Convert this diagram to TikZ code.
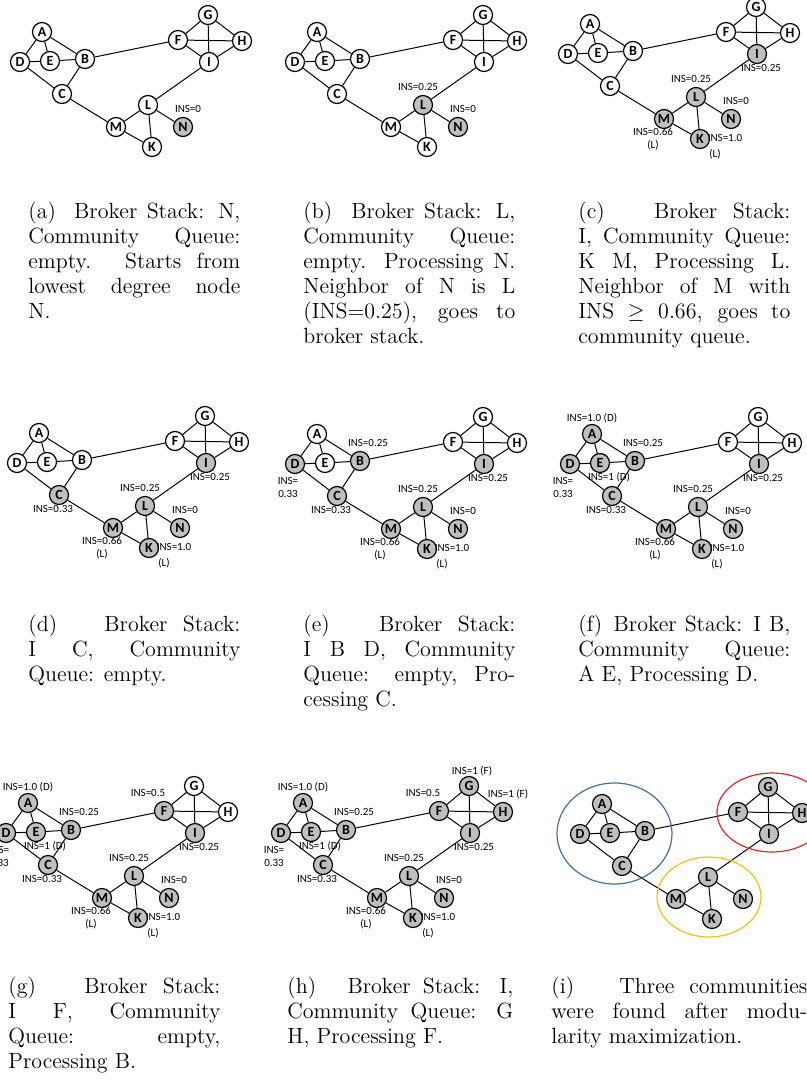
\documentclass[tikz,border=0pt]{standalone}
\usepackage{fontspec}
\newfontfamily\grfont{Carlito}
\usetikzlibrary{positioning}
\definecolor{nodegray}{HTML}{BFBFBF}
\definecolor{commblue}{HTML}{41719C}
\definecolor{commred}{HTML}{E3262B}
\definecolor{commyellow}{HTML}{F5C118}
\newcommand{\lsep}{\hskip 0.333em plus 0.8em minus 0.1em\relax}
\tikzset{
    vtx/.style={
        draw,
        circle,
        fill=white,
        minimum size=9.5pt,
        inner sep=0pt,
        line width=0.6pt,
        font=\grfont\fontsize{7}{8}\selectfont\bfseries
    },
    link/.style={draw, line width=0.5pt},
    ins/.style={font=\grfont\fontsize{5.5}{6.5}\selectfont, inner sep=0pt, align=center},
    capt/.style={anchor=base west, inner sep=0pt, text width=106pt, align=justify,
        font=\fontsize{11}{12.5}\selectfont},
    mark node/.style={v-#1/.style={fill=nodegray}},
    clear node/.style={v-#1/.style={}},
    clear node/.list={A,B,C,D,E,F,G,H,I,K,L,M,N}
}
% one stage of the broker search: name, shift, grey nodes, stage
\newcommand{\graphpanel}[4]{%
  \begin{scope}[shift={#2}, mark node/.list={#3}]
    \foreach \v/\x/\y in {A/42/32, B/85/59, C/62/94, D/20/62, E/50/61, F/178/40,
        G/208/15, H/242/41, I/209/62, K/152/147, L/148/105, M/116/127, N/183/127}
      \node[vtx, v-\v] (#1\v) at (\x,\y) {\v};
    \foreach \s/\t in {A/D, A/E, A/B, D/E, E/B, D/C, B/C, C/M, B/F, F/G, F/H, F/I,
        G/H, G/I, H/I, I/L, L/M, L/K, L/N, M/K}
      \draw[link] (#1\s) -- (#1\t);
    \foreach \v/\nm/\dx/\dy/\txt/\from in {N/n/5/-18/{INS=0}/1, L/l/-5/-18/{INS=0.25}/2,
        I/i/4/14/{INS=0.25}/3, M/m/-11/20/{INS=0.66\\(L)}/3, K/k/25/-1/{INS=1.0}/3,
        K/kk/15/15/{(L)}/3, C/c/-6/14/{INS=0.33}/4, B/b/8/-18/{INS=0.25}/5,
        D/d/-7/23/{INS=\\0.33}/5, A/a/0/-16/{INS=1.0 (D)}/6, E/e/9/14/{INS=1 (D)}/6,
        F/f/-16/-18/{INS=0.5}/7, G/g/3/-15/{INS=1 (F)}/8, H/h/5/-18/{INS=1 (F)}/8}
      {\ifnum#4<9 \ifnum\from>#4 \else
        \node[ins] (#1ins\nm) at ([shift={(\dx,\dy)}]#1\v) {\txt};
      \fi\fi}
  \end{scope}}

\begin{document}
\begin{tikzpicture}[x=0.5pt, y=-0.5pt]
  \useasboundingbox (0,0) rectangle (807,1081);
  \clip (0,0) rectangle (807,1081);

  \graphpanel{a}{(0,0)}{N}{1}
  \graphpanel{b}{(275,0)}{L,N}{2}
  \graphpanel{c}{(548,-8)}{I,K,L,M,N}{3}
  \graphpanel{d}{(-3,401)}{C,I,K,L,M,N}{4}
  \graphpanel{e}{(275,402)}{B,C,D,I,K,L,M,N}{5}
  \graphpanel{f}{(550,402)}{A,B,C,D,E,I,K,L,M,N}{6}
  \graphpanel{g}{(-14,771)}{A,B,C,D,E,F,I,K,L,M,N}{7}
  \graphpanel{h}{(261,771)}{A,B,C,D,E,F,G,H,I,K,L,M,N}{8}
  \graphpanel{i}{(560,772)}{A,B,C,D,E,F,G,H,I,K,L,M,N}{9}

  % communities
  \draw[commblue, line width=0.6pt] (614.5,833.5) ellipse [x radius=57.5, y radius=50.5];
  \draw[commred, line width=0.6pt] (772,812.5) ellipse [x radius=55, y radius=39.5];
  \draw[commyellow, line width=0.6pt] (709,897) ellipse [x radius=52, y radius=40];

  % captions
  \node[capt] (capa) at (28,218) {(a)\lsep Broker Stack: N,\linebreak Community Queue:\linebreak
    empty. Starts from\linebreak lowest degree node\linebreak N.};
  \node[capt] (capb) at (303,218) {(b)\lsep Broker Stack: L,\linebreak Community Queue:\linebreak
    empty. Processing N.\linebreak Neighbor of N is L\linebreak (INS=0.25), goes to\linebreak broker stack.};
  \node[capt] (capc) at (578,218) {(c)\lsep Broker Stack:\linebreak I, Community Queue:\linebreak
    K M, Processing L.\linebreak Neighbor of M with\linebreak INS $\geq$ 0.66, goes to\linebreak community queue.};
  \node[capt] (capd) at (28,631) {(d)\lsep Broker Stack:\linebreak I C, Community\linebreak Queue: empty.};
  \node[capt] (cape) at (303,631) {(e)\lsep Broker Stack:\linebreak I B D, Community\linebreak
    Queue: empty, Pro-\linebreak cessing C.};
  \node[capt] (capf) at (578,631) {(f)\lsep Broker Stack: I B,\linebreak Community Queue:\linebreak
    A E, Processing D.};
  \node[capt] (capg) at (8,993) {(g)\lsep Broker Stack:\linebreak I F, Community\linebreak
    Queue: empty,\linebreak Processing B.};
  \node[capt, text width=113pt] (caph) at (287,993) {(h)\lsep Broker Stack: I,\linebreak
    Community Queue: G\linebreak H, Processing F.};
  \node[capt, text width=128pt] (capi) at (551,993) {(i)\lsep Three communities\linebreak
    were found after modu-\linebreak larity maximization.};
\end{tikzpicture}
\end{document}
